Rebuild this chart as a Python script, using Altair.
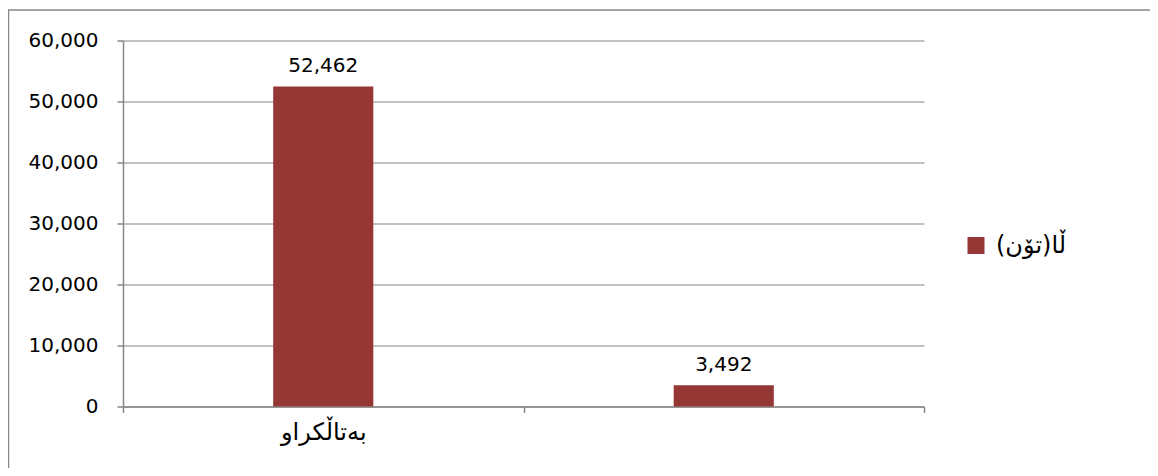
import altair as alt
import pandas as pd

categories = ["بەتاڵکراو", " "]
values = [52462, 3492]
series_name = "ڵا(تۆن)"
y_ticks = [0, 10000, 20000, 30000, 40000, 50000, 60000]

df = pd.DataFrame({"cat": categories, "val": values, "series": [series_name] * len(categories)})

FONT = "DejaVu Sans"
GRAY = "#868686"
BAR = "#953735"

x_enc = alt.X("cat:N", sort=categories, title=None,
              scale=alt.Scale(paddingInner=0, paddingOuter=0),
              axis=alt.Axis(labelAngle=0, tickBand="extent", grid=False, domainColor=GRAY,
                            tickColor=GRAY, tickSize=6, labelPadding=8, labelFontSize=24,
                            labelFont=FONT, labelColor="#000000", domainWidth=1.5, tickWidth=1.5))
y_enc = alt.Y("val:Q", title=None,
              scale=alt.Scale(domain=[0, 60000], nice=False),
              axis=alt.Axis(values=y_ticks, labelExpr="format(datum.value, ',.0f')",
                            grid=True, gridColor=GRAY, gridWidth=1.2,
                            domainColor=GRAY, tickColor=GRAY, tickSize=6, labelPadding=19,
                            labelFontSize=20, labelFont=FONT, labelColor="#000000",
                            domainWidth=1.5, tickWidth=1.5))

bars = alt.Chart(df).mark_bar(width=alt.RelativeBandSize(0.25)).encode(
    x=x_enc, y=y_enc,
    color=alt.Color("series:N", scale=alt.Scale(range=[BAR]),
                    legend=alt.Legend(title=None, orient="none", legendX=841, legendY=193,
                                      symbolType="square", symbolSize=289, symbolStrokeWidth=0,
                                      labelFontSize=24, labelFont=FONT, labelColor="#000000",
                                      padding=0, labelOffset=8, labelLimit=300)),
)

labels = alt.Chart(df).mark_text(baseline="alphabetic", dy=-14, fontSize=20, font=FONT,
                                 color="#000000").encode(
    x=alt.X("cat:N", sort=categories),
    y="val:Q",
    text=alt.Text("val:Q", format=",.0f"),
)

one = pd.DataFrame({"a": [0]})
top_border = alt.Chart(one).mark_rule(color=GRAY, strokeWidth=1.5).encode(
    x=alt.value(-115), x2=alt.value(1030), y=alt.value(-30.5))
left_border = alt.Chart(one).mark_rule(color=GRAY, strokeWidth=1.5).encode(
    x=alt.value(-114.5), y=alt.value(-30.5), y2=alt.value(430))

chart = alt.layer(bars, labels, top_border, left_border).properties(
    width=801, height=366,
    autosize="none",
    padding={"left": 115, "top": 32.5, "right": 226, "bottom": 61.5},
).configure_view(stroke=None)

chart.save("out.html", embed_options={"renderer": "svg", "actions": False})
